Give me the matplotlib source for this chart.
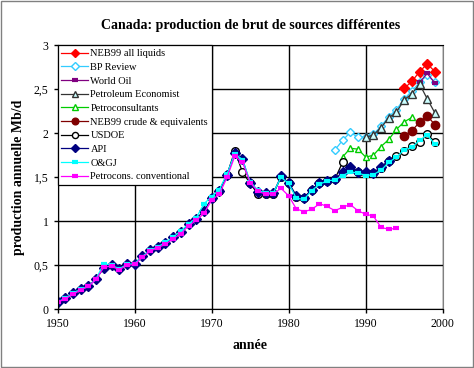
import matplotlib
matplotlib.use("Agg")
from matplotlib import pyplot as plt
from matplotlib.ticker import FuncFormatter
from matplotlib.patches import Rectangle

plt.rcParams['font.family'] = ['Liberation Serif', 'DejaVu Serif']

# --- data (Mb/d) ---
years_api = list(range(1950, 1994))
api = [0.086, 0.13, 0.18, 0.23, 0.265, 0.35, 0.465, 0.50, 0.455, 0.515,
       0.52, 0.605, 0.67, 0.71, 0.75, 0.82, 0.88, 0.97, 1.03, 1.12,
       1.26, 1.35, 1.53, 1.78, 1.71, 1.43, 1.33, 1.32, 1.32, 1.51,
       1.44, 1.29, 1.27, 1.36, 1.43, 1.46, 1.48, 1.56, 1.62, 1.56,
       1.56, 1.55, 1.62, 1.69]

years_ogj = list(range(1950, 2000))
ogj = [0.08, 0.13, 0.18, 0.23, 0.26, 0.35, 0.52, 0.50, 0.46, 0.51,
       0.52, 0.60, 0.67, 0.71, 0.76, 0.82, 0.89, 0.97, 1.04, 1.20,
       1.28, 1.36, 1.54, 1.77, 1.70, 1.45, 1.355, 1.32, 1.32, 1.50,
       1.43, 1.26, 1.25, 1.35, 1.42, 1.46, 1.47, 1.52, 1.56, 1.55,
       1.52, 1.53, 1.58, 1.67, 1.73, 1.81, 1.84, 1.92, 1.98, 1.875]

years_pconv = list(range(1950, 1995))
pconv = [0.08, 0.12, 0.17, 0.22, 0.26, 0.34, 0.48, 0.49, 0.45, 0.50,
         0.51, 0.59, 0.66, 0.70, 0.74, 0.80, 0.86, 0.95, 1.01, 1.09,
         1.24, 1.31, 1.50, 1.74, 1.67, 1.44, 1.34, 1.31, 1.31, 1.375,
         1.29, 1.14, 1.11, 1.135, 1.20, 1.17, 1.12, 1.16, 1.19, 1.12,
         1.08, 1.06, 0.93, 0.91, 0.92]

years_usdoe = list(range(1970, 2000))
usdoe = [1.26, 1.35, 1.53, 1.80, 1.56, 1.43, 1.31, 1.31, 1.31, 1.50,
         1.43, 1.28, 1.27, 1.36, 1.44, 1.46, 1.48, 1.67, 1.61, 1.56,
         1.55, 1.55, 1.61, 1.68, 1.74, 1.80, 1.86, 1.90, 1.99, 1.90]

years_pe = list(range(1990, 2000))
petro_econ = [1.955, 1.98, 2.065, 2.175, 2.24, 2.38, 2.45, 2.56, 2.39, 2.23]

years_bp = list(range(1986, 2000))
bp_review = [1.81, 1.92, 2.01, 1.955, 1.96, 1.99, 2.08, 2.19, 2.27, 2.39,
             2.48, 2.58, 2.66, 2.58]

years_wo = [1997, 1998, 1999]
world_oil = [2.58, 2.68, 2.57]

years_neb = list(range(1995, 2000))
neb_all = [2.51, 2.59, 2.70, 2.79, 2.70]
neb_crude = [1.97, 2.03, 2.125, 2.20, 2.095]

years_pcons = list(range(1987, 1997))
petrocons = [1.73, 1.83, 1.82, 1.73, 1.75, 1.85, 1.93, 2.045, 2.13, 2.18]

fig = plt.figure(figsize=(4.74, 3.68), dpi=100)
fig.patches.append(Rectangle((0.002, 0.003), 0.995, 0.994, transform=fig.transFigure,
                             fill=False, edgecolor='#808080', linewidth=1))
ax = fig.add_axes([0.1217, 0.1595, 0.8122, 0.7174])

lw = 0.9
ax.plot(years_neb, neb_all, color='#FF0000', lw=lw, marker='D', ms=5,
        mfc='#FF0000', mec='#FF0000', label='NEB99 all liquids')
ax.plot(years_bp, bp_review, color='#33CCFF', lw=lw, marker='D', ms=4.5,
        mfc='white', mec='#33CCFF', label='BP Review')
ax.plot(years_wo, world_oil, color='#800080', lw=lw, marker='_', ms=5, mew=3,
        mec='#800080', label='World Oil')
ax.plot(years_pe, petro_econ, color='#333333', lw=lw, marker='^', ms=6,
        mfc='#CCFFFF', mec='#333333', label='Petroleum Economist')
ax.plot(years_pcons, petrocons, color='#00CC00', lw=lw, marker='^', ms=5,
        mfc='white', mec='#00CC00', label='Petroconsultants')
ax.plot(years_neb, neb_crude, color='#800000', lw=lw, marker='o', ms=6,
        mfc='#800000', mec='#800000', label='NEB99 crude & equivalents')
ax.plot(years_usdoe, usdoe, color='black', lw=lw, marker='o', ms=5.5,
        mfc='white', mec='black', mew=1.0, label='USDOE')
ax.plot(years_api, api, color='#000080', lw=lw, marker='D', ms=5,
        mfc='#000080', mec='#000080', label='API')
ax.plot(years_ogj, ogj, color='#00FFFF', lw=lw, marker='_', ms=5, mew=3,
        mec='#00FFFF', label='O&GJ')
ax.plot(years_pconv, pconv, color='#FF00FF', lw=lw, marker='_', ms=5, mew=3,
        mec='#FF00FF', label='Petrocons. conventional')

ax.set_xlim(1950, 2000)
ax.set_ylim(0, 3)
ax.set_xticks(range(1950, 2001, 10))
ax.set_yticks([0, 0.5, 1, 1.5, 2, 2.5, 3])
ax.yaxis.set_major_formatter(FuncFormatter(lambda v, p: ('%g' % v).replace('.', ',')))
ax.grid(True, color='black', linewidth=1)
ax.set_axisbelow(True)
ax.tick_params(labelsize=8.5, length=3, width=1)
for s in ['left', 'bottom', 'top']:
    ax.spines[s].set_color('black')
ax.spines['right'].set_color('#808080')

ax.set_title('Canada: production de brut de sources différentes',
             fontsize=10, fontweight='bold', pad=12)
ax.set_xlabel('année', fontsize=10, fontweight='bold', labelpad=6)
ax.set_ylabel('production annuelle Mb/d', fontsize=10, fontweight='bold', labelpad=6)

leg = ax.legend(loc='upper left', bbox_to_anchor=(0.0, 1.0), fontsize=7.5,
                frameon=True, fancybox=False, edgecolor='black', framealpha=1,
                borderaxespad=0.0, labelspacing=0.42, handlelength=2.6,
                handletextpad=0.2, borderpad=0.35, markerscale=0.8)
leg.get_frame().set_linewidth(0.9)

fig.savefig('out.png', dpi=100)
